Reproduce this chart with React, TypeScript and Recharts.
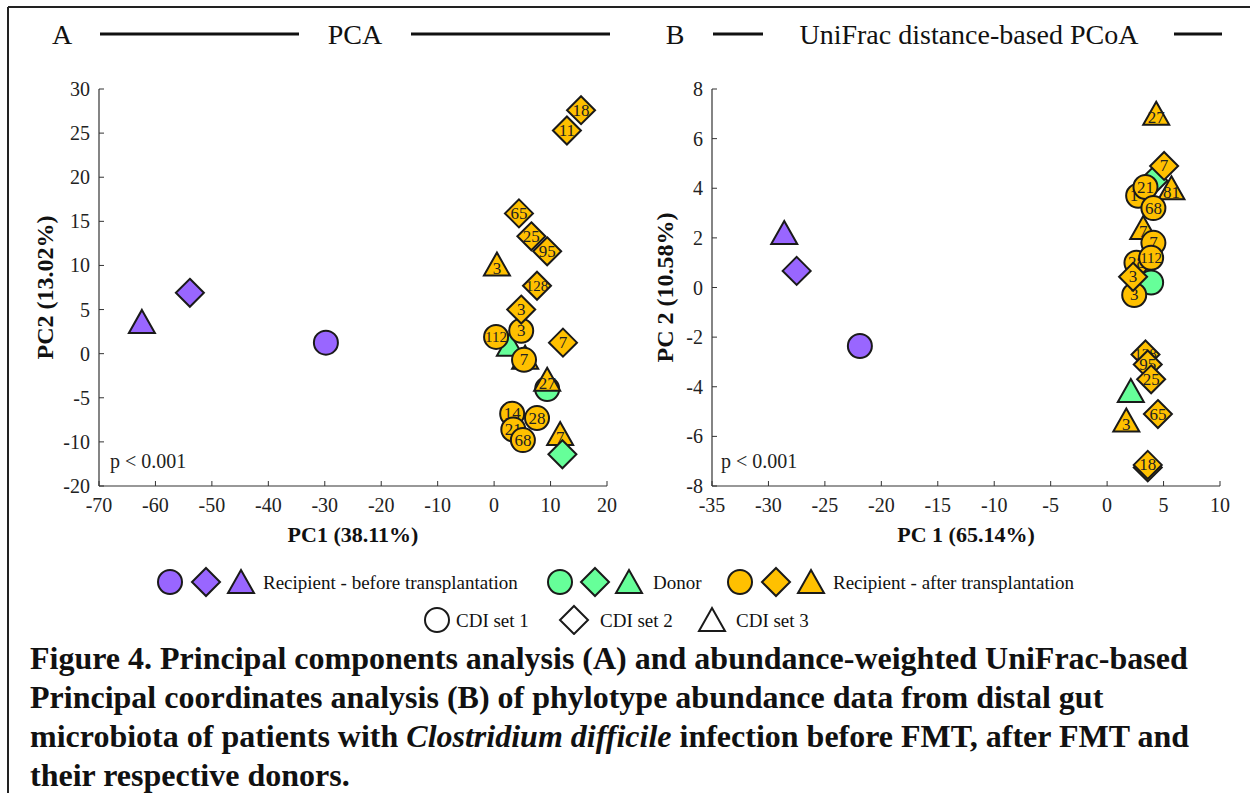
import React from 'react';
import { ScatterChart, Scatter, XAxis, YAxis } from 'recharts';

const FONT = '"Liberation Serif", "Times New Roman", Times, serif';
const PURPLE = '#9966FF';
const GREEN = '#66FF99';
const YELLOW = '#FFC000';
const INK = '#1a1a1a';

// ---------- Panel A: PCA ----------
const pcaXTicks = [-70, -60, -50, -40, -30, -20, -10, 0, 10, 20];
const pcaYTicks = [-15, -10, -5, 0, 5, 10, 15, 20, 25, 30];
const pcaYTickLabels = ['-20', '-10', '-5', '0', '5', '10', '15', '20', '25', '30'];

const pcaBeforeCircle = [{ x: -29.8, y: 1.25 }];
const pcaBeforeDiamond = [{ x: -53.9, y: 6.9 }];
const pcaBeforeTriangle = [{ x: -62.4, y: 3.6 }];
const pcaDonorCircle = [{ x: 9.4, y: -4.0 }];
const pcaDonorDiamond = [{ x: 12.1, y: -11.4 }];
const pcaDonorTriangle = [{ x: 2.8, y: 1.0 }];
const pcaAfterCircle = [
  { x: 0.35, y: 1.9, label: '112' },
  { x: 4.8, y: 2.6, label: '3' },
  { x: 5.3, y: -0.7, label: '7' },
  { x: 3.2, y: -6.8, label: '14' },
  { x: 7.6, y: -7.3, label: '28' },
  { x: 3.4, y: -8.6, label: '21' },
  { x: 5.1, y: -9.8, label: '68' },
];
const pcaAfterDiamond = [
  { x: 15.4, y: 27.6, label: '18' },
  { x: 12.9, y: 25.3, label: '11' },
  { x: 4.4, y: 15.9, label: '65' },
  { x: 6.6, y: 13.3, label: '25' },
  { x: 9.4, y: 11.6, label: '95' },
  { x: 7.6, y: 7.7, label: '128' },
  { x: 4.8, y: 5.0, label: '3' },
  { x: 12.2, y: 1.25, label: '7' },
];
const pcaAfterTriangle = [
  { x: 0.5, y: 10.1, label: '3' },
  { x: 5.5, y: -0.45, label: '7' },
  { x: 9.4, y: -2.95, label: '27' },
  { x: 11.7, y: -9.1, label: '7' },
];

// ---------- Panel B: UniFrac PCoA ----------
const pcoaXTicks = [-35, -30, -25, -20, -15, -10, -5, 0, 5, 10];
const pcoaYTicks = [-8, -6, -4, -2, 0, 2, 4, 6, 8];

const pcoaBeforeCircle = [{ x: -21.9, y: -2.36 }];
const pcoaBeforeDiamond = [{ x: -27.5, y: 0.67 }];
const pcoaBeforeTriangle = [{ x: -28.6, y: 2.2 }];
const pcoaDonorCircle = [{ x: 3.9, y: 0.2 }];
const pcoaDonorDiamond = [{ x: 4.1, y: 4.3 }];
const pcoaDonorTriangle = [{ x: 2.1, y: -4.17 }];
const pcoaAfterTriangle = [
  { x: 4.35, y: 7.0, label: '27' },
  { x: 5.7, y: 4.0, label: '81' },
  { x: 3.2, y: 2.4, label: '7' },
  { x: 1.7, y: -5.36, label: '3' },
];
const pcoaAfterCircle = [
  { x: 2.75, y: 3.7, label: '14' },
  { x: 3.4, y: 4.05, label: '21' },
  { x: 4.1, y: 3.2, label: '68' },
  { x: 2.6, y: 1.0, label: '28' },
  { x: 4.1, y: 1.8, label: '7' },
  { x: 3.9, y: 1.2, label: '112' },
  { x: 2.4, y: -0.3, label: '3' },
];
const pcoaAfterDiamond = [
  { x: 5.05, y: 4.9, label: '7' },
  { x: 2.3, y: 0.43, label: '3' },
  { x: 3.4, y: -2.7, label: '128' },
  { x: 3.6, y: -3.1, label: '95' },
  { x: 3.9, y: -3.7, label: '25' },
  { x: 4.5, y: -5.1, label: '65' },
  { x: 3.6, y: -7.25, label: '11' },
  { x: 3.6, y: -7.15, label: '18' },
];

type Kind = 'circle' | 'diamond' | 'triangle';

function Marker({ kind, cx, cy, fill, label, stroke = INK }: { kind: Kind; cx: number; cy: number; fill: string; label?: string; stroke?: string }) {
  let shape: React.ReactNode = null;
  if (kind === 'circle') {
    shape = <circle cx={cx} cy={cy} r={12} fill={fill} stroke={stroke} strokeWidth={2} />;
  } else if (kind === 'diamond') {
    shape = (
      <polygon
        points={`${cx},${cy - 14} ${cx + 14},${cy} ${cx},${cy + 14} ${cx - 14},${cy}`}
        fill={fill}
        stroke={stroke}
        strokeWidth={2}
        strokeLinejoin="miter"
      />
    );
  } else {
    shape = (
      <polygon
        points={`${cx},${cy - 12} ${cx + 13},${cy + 11} ${cx - 13},${cy + 11}`}
        fill={fill}
        stroke={stroke}
        strokeWidth={2}
      />
    );
  }
  return (
    <g>
      {shape}
      {label ? (
        <text
          x={cx}
          y={cy + (kind === 'triangle' ? 4 : 0)}
          textAnchor="middle"
          dominantBaseline="central"
          fontFamily={FONT}
          fontSize={label.length > 2 ? 15 : 17}
          fill="#222"
        >
          {label}
        </text>
      ) : null}
    </g>
  );
}

const shapeOf = (kind: Kind, fill: string) => (p: any) => (
  <Marker kind={kind} cx={p.cx} cy={p.cy} fill={fill} label={p.payload && p.payload.label} />
);

const TICK_MARGIN = 12;
const TICK_LEN = 5;
const TICK_FONT = 20;

const makeXTick = (fmt: (v: number) => string) => (props: any) => {
  const { x, y, payload } = props;
  const axisY = y - TICK_MARGIN;
  return (
    <g>
      <line x1={x} x2={x} y1={axisY} y2={axisY - TICK_LEN} stroke="#333" strokeWidth={1} />
      <text x={x} y={y} dy="0.7em" textAnchor="middle" fontFamily={FONT} fontSize={TICK_FONT} fill="#222">
        {fmt(payload.value)}
      </text>
    </g>
  );
};

const makeYTick = (fmt: (v: number) => string) => (props: any) => {
  const { x, y, payload } = props;
  const axisX = x + 9;
  return (
    <g>
      <line x1={axisX} x2={axisX + TICK_LEN} y1={y} y2={y} stroke="#333" strokeWidth={1} />
      <text x={x} y={y} dy="0.35em" textAnchor="end" fontFamily={FONT} fontSize={TICK_FONT} fill="#222">
        {fmt(payload.value)}
      </text>
    </g>
  );
};

const xTitle = (text: string) => (props: any) => {
  const vb = props.viewBox || {};
  return (
    <text x={vb.x + vb.width / 2} y={vb.y + 48} textAnchor="middle" dominantBaseline="central" fontFamily={FONT} fontWeight="bold" fontSize={22} fill="#111">
      {text}
    </text>
  );
};

const yTitle = (text: string, dxFromAxis: number) => (props: any) => {
  const vb = props.viewBox || {};
  const cx = vb.x + vb.width - dxFromAxis;
  const cy = vb.y + vb.height / 2;
  return (
    <text x={cx} y={cy} transform={`rotate(-90 ${cx} ${cy})`} textAnchor="middle" dominantBaseline="central" fontFamily={FONT} fontWeight="bold" fontSize={24} fill="#111">
      {text}
    </text>
  );
};

function Panel(props: {
  left: number;
  yAxisWidth: number;
  marginRight: number;
  xDomain: [number, number];
  yDomain: [number, number];
  xTicks: number[];
  yTicks: number[];
  yFmt: (v: number) => string;
  xLabel: string;
  yLabel: string;
  series: { data: any[]; kind: Kind; fill: string }[];
}) {
  const W = 620;
  const H = 560;
  return (
    <div style={{ position: 'absolute', left: props.left, top: 0, width: W, height: H }}>
      <ScatterChart width={W} height={H} margin={{ top: 89, right: props.marginRight, bottom: 0, left: 0 }}>
        <XAxis
          xAxisId="b"
          type="number"
          dataKey="x"
          domain={props.xDomain}
          ticks={props.xTicks}
          allowDataOverflow
          interval={0}
          height={74}
          tickSize={0}
          tickMargin={TICK_MARGIN}
          tickLine={false}
          axisLine={{ stroke: '#333', strokeWidth: 1.2 }}
          tick={makeXTick((v) => String(v))}
          label={{ content: xTitle(props.xLabel) }}
        />
        <XAxis xAxisId="t" orientation="top" type="number" dataKey="x" domain={props.xDomain} height={0} tick={false} tickLine={false} axisLine={{ stroke: '#555', strokeWidth: 1.2 }} />
        <YAxis
          yAxisId="l"
          type="number"
          dataKey="y"
          domain={props.yDomain}
          ticks={props.yTicks}
          allowDataOverflow
          interval={0}
          width={props.yAxisWidth}
          tickSize={0}
          tickMargin={9}
          tickLine={false}
          axisLine={{ stroke: '#333', strokeWidth: 1.2 }}
          tick={makeYTick(props.yFmt)}
          label={{ content: yTitle(props.yLabel, props.yAxisWidth - 45) }}
        />
        <YAxis yAxisId="r" orientation="right" type="number" dataKey="y" domain={props.yDomain} width={0} tick={false} tickLine={false} axisLine={{ stroke: '#555', strokeWidth: 1.2 }} />
        {props.series.map((s, i) => (
          <Scatter
            key={i}
            xAxisId="b"
            yAxisId="l"
            data={s.data}
            isAnimationActive={false}
            shape={shapeOf(s.kind, s.fill)}
          />
        ))}
      </ScatterChart>
    </div>
  );
}

function Header() {
  const ts = { fontFamily: FONT, fontSize: 28, fill: '#111' } as const;
  return (
    <svg width={1250} height={60} style={{ position: 'absolute', left: 0, top: 0 }}>
      <line x1={8} y1={7} x2={1250} y2={7} stroke="#222" strokeWidth={2} />
      <text x={62} y={34} textAnchor="middle" dominantBaseline="central" {...ts}>A</text>
      <line x1={100} x2={299} y1={34} y2={34} stroke="#111" strokeWidth={3} />
      <text x={355} y={34} textAnchor="middle" dominantBaseline="central" {...ts}>PCA</text>
      <line x1={411} x2={610} y1={34} y2={34} stroke="#111" strokeWidth={3} />
      <text x={675} y={34} textAnchor="middle" dominantBaseline="central" {...ts}>B</text>
      <line x1={713} x2={763} y1={34} y2={34} stroke="#111" strokeWidth={3} />
      <text x={969} y={34} textAnchor="middle" dominantBaseline="central" {...ts}>UniFrac distance-based PCoA</text>
      <line x1={1174} x2={1222} y1={34} y2={34} stroke="#111" strokeWidth={3} />
    </svg>
  );
}

function Legend() {
  const ts = { fontFamily: FONT, fontSize: 19, fill: '#111', dominantBaseline: 'central' } as const;
  return (
    <svg width={1250} height={80} style={{ position: 'absolute', left: 0, top: 555 }}>
      <Marker kind="circle" cx={170} cy={27} fill={PURPLE} />
      <Marker kind="diamond" cx={206} cy={27} fill={PURPLE} />
      <Marker kind="triangle" cx={241} cy={27} fill={PURPLE} />
      <text x={263} y={27} {...ts}>Recipient - before transplantation</text>
      <Marker kind="circle" cx={560} cy={27} fill={GREEN} />
      <Marker kind="diamond" cx={595} cy={27} fill={GREEN} />
      <Marker kind="triangle" cx={629} cy={27} fill={GREEN} />
      <text x={653} y={27} {...ts}>Donor</text>
      <Marker kind="circle" cx={740} cy={27} fill={YELLOW} />
      <Marker kind="diamond" cx={776} cy={27} fill={YELLOW} />
      <Marker kind="triangle" cx={811} cy={27} fill={YELLOW} />
      <text x={833} y={27} {...ts}>Recipient - after transplantation</text>
      <Marker kind="circle" cx={437} cy={65} fill="#fff" />
      <text x={456} y={65} {...ts}>CDI set 1</text>
      <Marker kind="diamond" cx={574} cy={65} fill="#fff" />
      <text x={600} y={65} {...ts}>CDI set 2</text>
      <Marker kind="triangle" cx={712} cy={65} fill="#fff" />
      <text x={736} y={65} {...ts}>CDI set 3</text>
    </svg>
  );
}

function Caption() {
  return (
    <div
      style={{
        position: 'absolute',
        left: 30,
        top: 639,
        width: 1220,
        fontFamily: FONT,
        fontWeight: 'bold',
        fontSize: 32,
        lineHeight: '39px',
        color: '#111',
        whiteSpace: 'nowrap',
      }}
    >
      Figure 4. Principal components analysis (A) and abundance-weighted UniFrac-based
      <br />
      Principal coordinates analysis (B) of phylotype abundance data from distal gut
      <br />
      microbiota of patients with <i>Clostridium difficile</i> infection before FMT, after FMT and
      <br />
      their respective donors.
    </div>
  );
}

export default function App() {
  const pcaSeries = [
    { data: pcaBeforeCircle, kind: 'circle' as Kind, fill: PURPLE },
    { data: pcaBeforeDiamond, kind: 'diamond' as Kind, fill: PURPLE },
    { data: pcaBeforeTriangle, kind: 'triangle' as Kind, fill: PURPLE },
    { data: pcaDonorCircle, kind: 'circle' as Kind, fill: GREEN },
    { data: pcaAfterTriangle, kind: 'triangle' as Kind, fill: YELLOW },
    { data: pcaDonorTriangle, kind: 'triangle' as Kind, fill: GREEN },
    { data: pcaAfterCircle, kind: 'circle' as Kind, fill: YELLOW },
    { data: pcaAfterDiamond, kind: 'diamond' as Kind, fill: YELLOW },
    { data: pcaDonorDiamond, kind: 'diamond' as Kind, fill: GREEN },
  ];
  const pcoaSeries = [
    { data: pcoaBeforeCircle, kind: 'circle' as Kind, fill: PURPLE },
    { data: pcoaBeforeDiamond, kind: 'diamond' as Kind, fill: PURPLE },
    { data: pcoaBeforeTriangle, kind: 'triangle' as Kind, fill: PURPLE },
    { data: pcoaDonorCircle, kind: 'circle' as Kind, fill: GREEN },
    { data: pcoaDonorDiamond, kind: 'diamond' as Kind, fill: GREEN },
    { data: pcoaDonorTriangle, kind: 'triangle' as Kind, fill: GREEN },
    { data: pcoaAfterTriangle, kind: 'triangle' as Kind, fill: YELLOW },
    { data: pcoaAfterCircle, kind: 'circle' as Kind, fill: YELLOW },
    { data: pcoaAfterDiamond, kind: 'diamond' as Kind, fill: YELLOW },
  ];
  return (
    <div style={{ position: 'absolute', left: 0, top: 0, width: 1250, height: 793, background: '#fff', overflow: 'hidden' }}>
      <div style={{ position: 'absolute', left: 7, top: 7, width: 2, height: 786, background: '#222' }} />
      <Header />
      <Panel
        left={0}
        yAxisWidth={99}
        marginRight={13}
        xDomain={[-70, 20]}
        yDomain={[-15, 30]}
        xTicks={pcaXTicks}
        yTicks={pcaYTicks}
        yFmt={(v) => pcaYTickLabels[pcaYTicks.indexOf(v)]}
        xLabel="PC1 (38.11%)"
        yLabel="PC2 (13.02%)"
        series={pcaSeries}
      />
      <Panel
        left={620}
        yAxisWidth={92}
        marginRight={20}
        xDomain={[-35, 10]}
        yDomain={[-8, 8]}
        xTicks={pcoaXTicks}
        yTicks={pcoaYTicks}
        yFmt={(v) => String(v)}
        xLabel="PC 1 (65.14%)"
        yLabel="PC 2 (10.58%)"
        series={pcoaSeries}
      />
      <div style={{ position: 'absolute', left: 110, top: 450, fontFamily: FONT, fontSize: 20, color: '#222' }}>p &lt; 0.001</div>
      <div style={{ position: 'absolute', left: 721, top: 450, fontFamily: FONT, fontSize: 20, color: '#222' }}>p &lt; 0.001</div>
      <Legend />
      <Caption />
    </div>
  );
}
